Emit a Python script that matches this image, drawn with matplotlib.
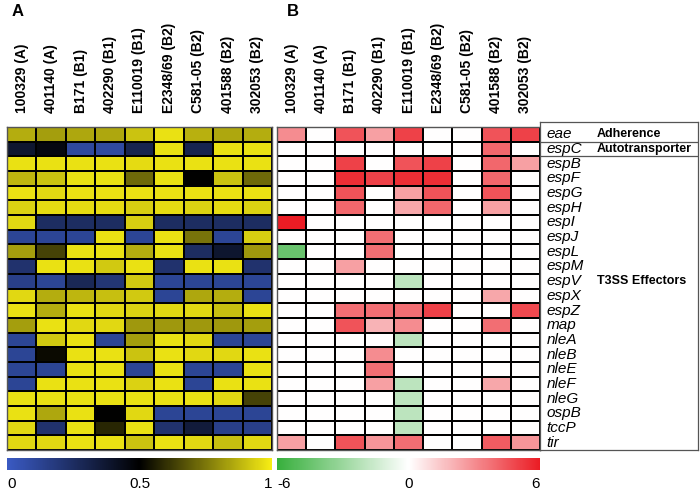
import numpy as np
import matplotlib
matplotlib.use("Agg")
import matplotlib.pyplot as plt
from matplotlib.colors import LinearSegmentedColormap

plt.rcParams['font.family'] = ['Liberation Sans', 'DejaVu Sans']

strains = ["100329 (A)", "401140 (A)", "B171 (B1)", "402290 (B1)", "E110019 (B1)",
           "E2348/69 (B2)", "C581-05 (B2)", "401588 (B2)", "302053 (B2)"]
genes = ["eae", "espC", "espB", "espF", "espG", "espH", "espI", "espJ", "espL", "espM",
         "espV", "espX", "espZ", "map", "nleA", "nleB", "nleE", "nleF", "nleG", "ospB",
         "tccP", "tir"]
groups = [("Adherence", 0), ("Autotransporter", 1), ("T3SS Effectors", 10)]

# panel A: presence score 0..1
presence = [
    [0.86, 0.83, 0.85, 0.85, 0.91, 0.97, 0.87, 0.85, 0.86],  # eae
    [0.38, 0.46, 0.10, 0.09, 0.30, 0.97, 0.30, 0.97, 0.97],  # espC
    [0.97, 0.97, 0.97, 0.97, 0.96, 0.97, 0.97, 0.97, 0.97],  # espB
    [0.88, 0.91, 0.97, 0.97, 0.72, 0.97, 0.50, 0.91, 0.72],  # espF
    [0.97, 0.95, 0.97, 0.97, 0.97, 0.97, 0.97, 0.97, 0.97],  # espG
    [0.94, 0.96, 0.96, 0.96, 0.93, 0.96, 0.94, 0.96, 0.94],  # espH
    [0.95, 0.25, 0.25, 0.25, 0.93, 0.25, 0.25, 0.25, 0.25],  # espI
    [0.12, 0.12, 0.12, 0.97, 0.12, 0.97, 0.74, 0.12, 0.93],  # espJ
    [0.83, 0.64, 0.97, 0.97, 0.86, 0.97, 0.25, 0.38, 0.82],  # espL
    [0.22, 0.97, 0.97, 0.92, 0.97, 0.22, 0.97, 0.97, 0.22],  # espM
    [0.15, 0.12, 0.28, 0.20, 0.92, 0.12, 0.12, 0.12, 0.12],  # espV
    [0.95, 0.86, 0.88, 0.90, 0.92, 0.12, 0.85, 0.86, 0.12],  # espX
    [0.97, 0.86, 0.97, 0.95, 0.94, 0.95, 0.95, 0.90, 0.97],  # espZ
    [0.83, 0.97, 0.95, 0.95, 0.82, 0.82, 0.82, 0.82, 0.83],  # map
    [0.12, 0.92, 0.97, 0.12, 0.83, 0.97, 0.95, 0.12, 0.12],  # nleA
    [0.12, 0.52, 0.97, 0.97, 0.91, 0.97, 0.95, 0.95, 0.97],  # nleB
    [0.12, 0.12, 0.97, 0.97, 0.12, 0.97, 0.12, 0.12, 0.97],  # nleE
    [0.12, 0.97, 0.97, 0.97, 0.94, 0.97, 0.12, 0.97, 0.97],  # nleF
    [0.97, 0.97, 0.97, 0.97, 0.97, 0.97, 0.97, 0.95, 0.64],  # nleG
    [0.97, 0.85, 0.97, 0.50, 0.95, 0.12, 0.12, 0.12, 0.12],  # ospB
    [0.95, 0.22, 0.97, 0.58, 0.97, 0.22, 0.35, 0.15, 0.15],  # tccP
    [0.95, 0.95, 0.97, 0.97, 0.91, 0.97, 0.95, 0.90, 0.95],  # tir
]

# panel B: expression change -6..6
expression = [
    [3.0, 0, 4.5, 2.5, 5.0, 0, 0, 4.5, 5.0],   # eae
    [0, 0, 0, 0, 0, 0, 0, 4.0, 0],             # espC
    [0, 0, 5.0, 0, 4.5, 5.0, 0, 4.0, 2.5],     # espB
    [0, 0, 5.5, 5.0, 5.5, 5.5, 0, 4.0, 0],     # espF
    [0, 0, 4.5, 0, 2.5, 4.5, 0, 4.5, 0],       # espG
    [0, 0, 4.0, 0, 2.3, 4.0, 0, 2.5, 0],       # espH
    [6.0, 0, 0, 0, 0, 0, 0, 0, 0],             # espI
    [0, 0, 0, 3.8, 0, 0, 0, 0, 0],             # espJ
    [-4.5, 0, 0, 3.8, 0, 0, 0, 0, 0],          # espL
    [0, 0, 2.5, 0, 0, 0, 0, 0, 0],             # espM
    [0, 0, 0, 0, -2.0, 0, 0, 0, 0],            # espV
    [0, 0, 0, 0, 0, 0, 0, 2.3, 0],             # espX
    [0, 0, 3.8, 3.8, 3.8, 5.0, 0, 0, 4.8],     # espZ
    [0, 0, 4.5, 2.0, 3.0, 0, 0, 3.8, 0],       # map
    [0, 0, 0, 0, -2.0, 0, 0, 0, 0],            # nleA
    [0, 0, 0, 3.0, 0, 0, 0, 0, 0],             # nleB
    [0, 0, 0, 3.8, 0, 0, 0, 0, 0],             # nleE
    [0, 0, 0, 2.5, -2.0, 0, 0, 2.3, 0],        # nleF
    [0, 0, 0, 0, -2.0, 0, 0, 0, 0],            # nleG
    [0, 0, 0, 0, -2.0, 0, 0, 0, 0],            # ospB
    [0, 0, 0, 0, -2.0, 0, 0, 0, 0],            # tccP
    [2.5, 0, 4.5, 2.8, 3.8, 0, 0, 4.3, 2.8],   # tir
]

W, H = 700, 492
def px(x0, y0, x1, y1):
    # pixel box (top-left origin) -> figure fraction
    return [x0 / W, 1 - y1 / H, (x1 - x0) / W, (y1 - y0) / H]

cmapA = LinearSegmentedColormap.from_list(
    "byk", [(0.0, (58/255, 90/255, 195/255)), (0.5, (0, 0, 0)), (1.0, (248/255, 238/255, 20/255))])
cmapB = LinearSegmentedColormap.from_list(
    "gwr", [(0.0, (55/255, 175/255, 60/255)), (0.5, (1, 1, 1)), (1.0, (235/255, 28/255, 36/255))])

fig = plt.figure(figsize=(7, 4.92), dpi=100)

top, bot = 127, 450
axA = fig.add_axes(px(7, top, 272, bot))
axB = fig.add_axes(px(277, top, 540, bot))

nr, nc = len(genes), len(strains)
meshA = axA.pcolormesh(np.array(presence), cmap=cmapA, vmin=0, vmax=1,
                       edgecolors='k', linewidth=1.1)
meshB = axB.pcolormesh(np.array(expression), cmap=cmapB, vmin=-6, vmax=6,
                       edgecolors='k', linewidth=1.1)

for ax in (axA, axB):
    ax.set_xlim(0, nc)
    ax.set_ylim(nr, 0)
    ax.xaxis.tick_top()
    ax.set_xticks(np.arange(nc) + 0.5)
    ax.set_xticklabels(strains, rotation=90, fontsize=10, fontweight='bold')
    ax.tick_params(axis='x', length=0, pad=10)
    ax.set_yticks([])
    for s in ax.spines.values():
        s.set_linewidth(1.0)
        s.set_color('#555555')

# gene / group label box
axL = fig.add_axes(px(540, 122, 698, bot))
axL.set_xlim(0, 1)
axL.set_ylim(nr, -5 / ((bot - top) / nr))
axL.set_xticks([])
axL.set_yticks([])
for s in axL.spines.values():
    s.set_linewidth(0.9)
    s.set_color('#555555')
for i, g in enumerate(genes):
    axL.text(0.04, i + 0.5, g, fontsize=11, style='italic', va='center', ha='left')
for name, row in groups:
    axL.text(0.36, row + 0.5, name, fontsize=9, fontweight='bold', va='center', ha='left')
for name, row in groups[:2]:
    axL.axhline(row + 1, color='#555555', lw=0.9)

# colorbars
caxA = fig.add_axes(px(7, 458, 272, 470))
caxB = fig.add_axes(px(277, 458, 540, 470))
cbA = fig.colorbar(meshA, cax=caxA, orientation='horizontal', ticks=[0, 0.5, 1])
cbA.set_ticklabels(["0", "0.5", "1"])
cbB = fig.colorbar(meshB, cax=caxB, orientation='horizontal', ticks=[-6, 0, 6])
cbB.set_ticklabels(["-6", "0", "6"])
for cb in (cbA, cbB):
    cb.outline.set_visible(False)
    cb.ax.tick_params(length=0, pad=5, labelsize=11)
    labs = cb.ax.get_xticklabels()
    labs[0].set_ha('left')
    labs[-1].set_ha('right')

fig.text(12 / W, 1 - 16 / H, "A", fontsize=12, fontweight='bold')
fig.text(287 / W, 1 - 16 / H, "B", fontsize=12, fontweight='bold')

fig.savefig("out.png", dpi=100)
